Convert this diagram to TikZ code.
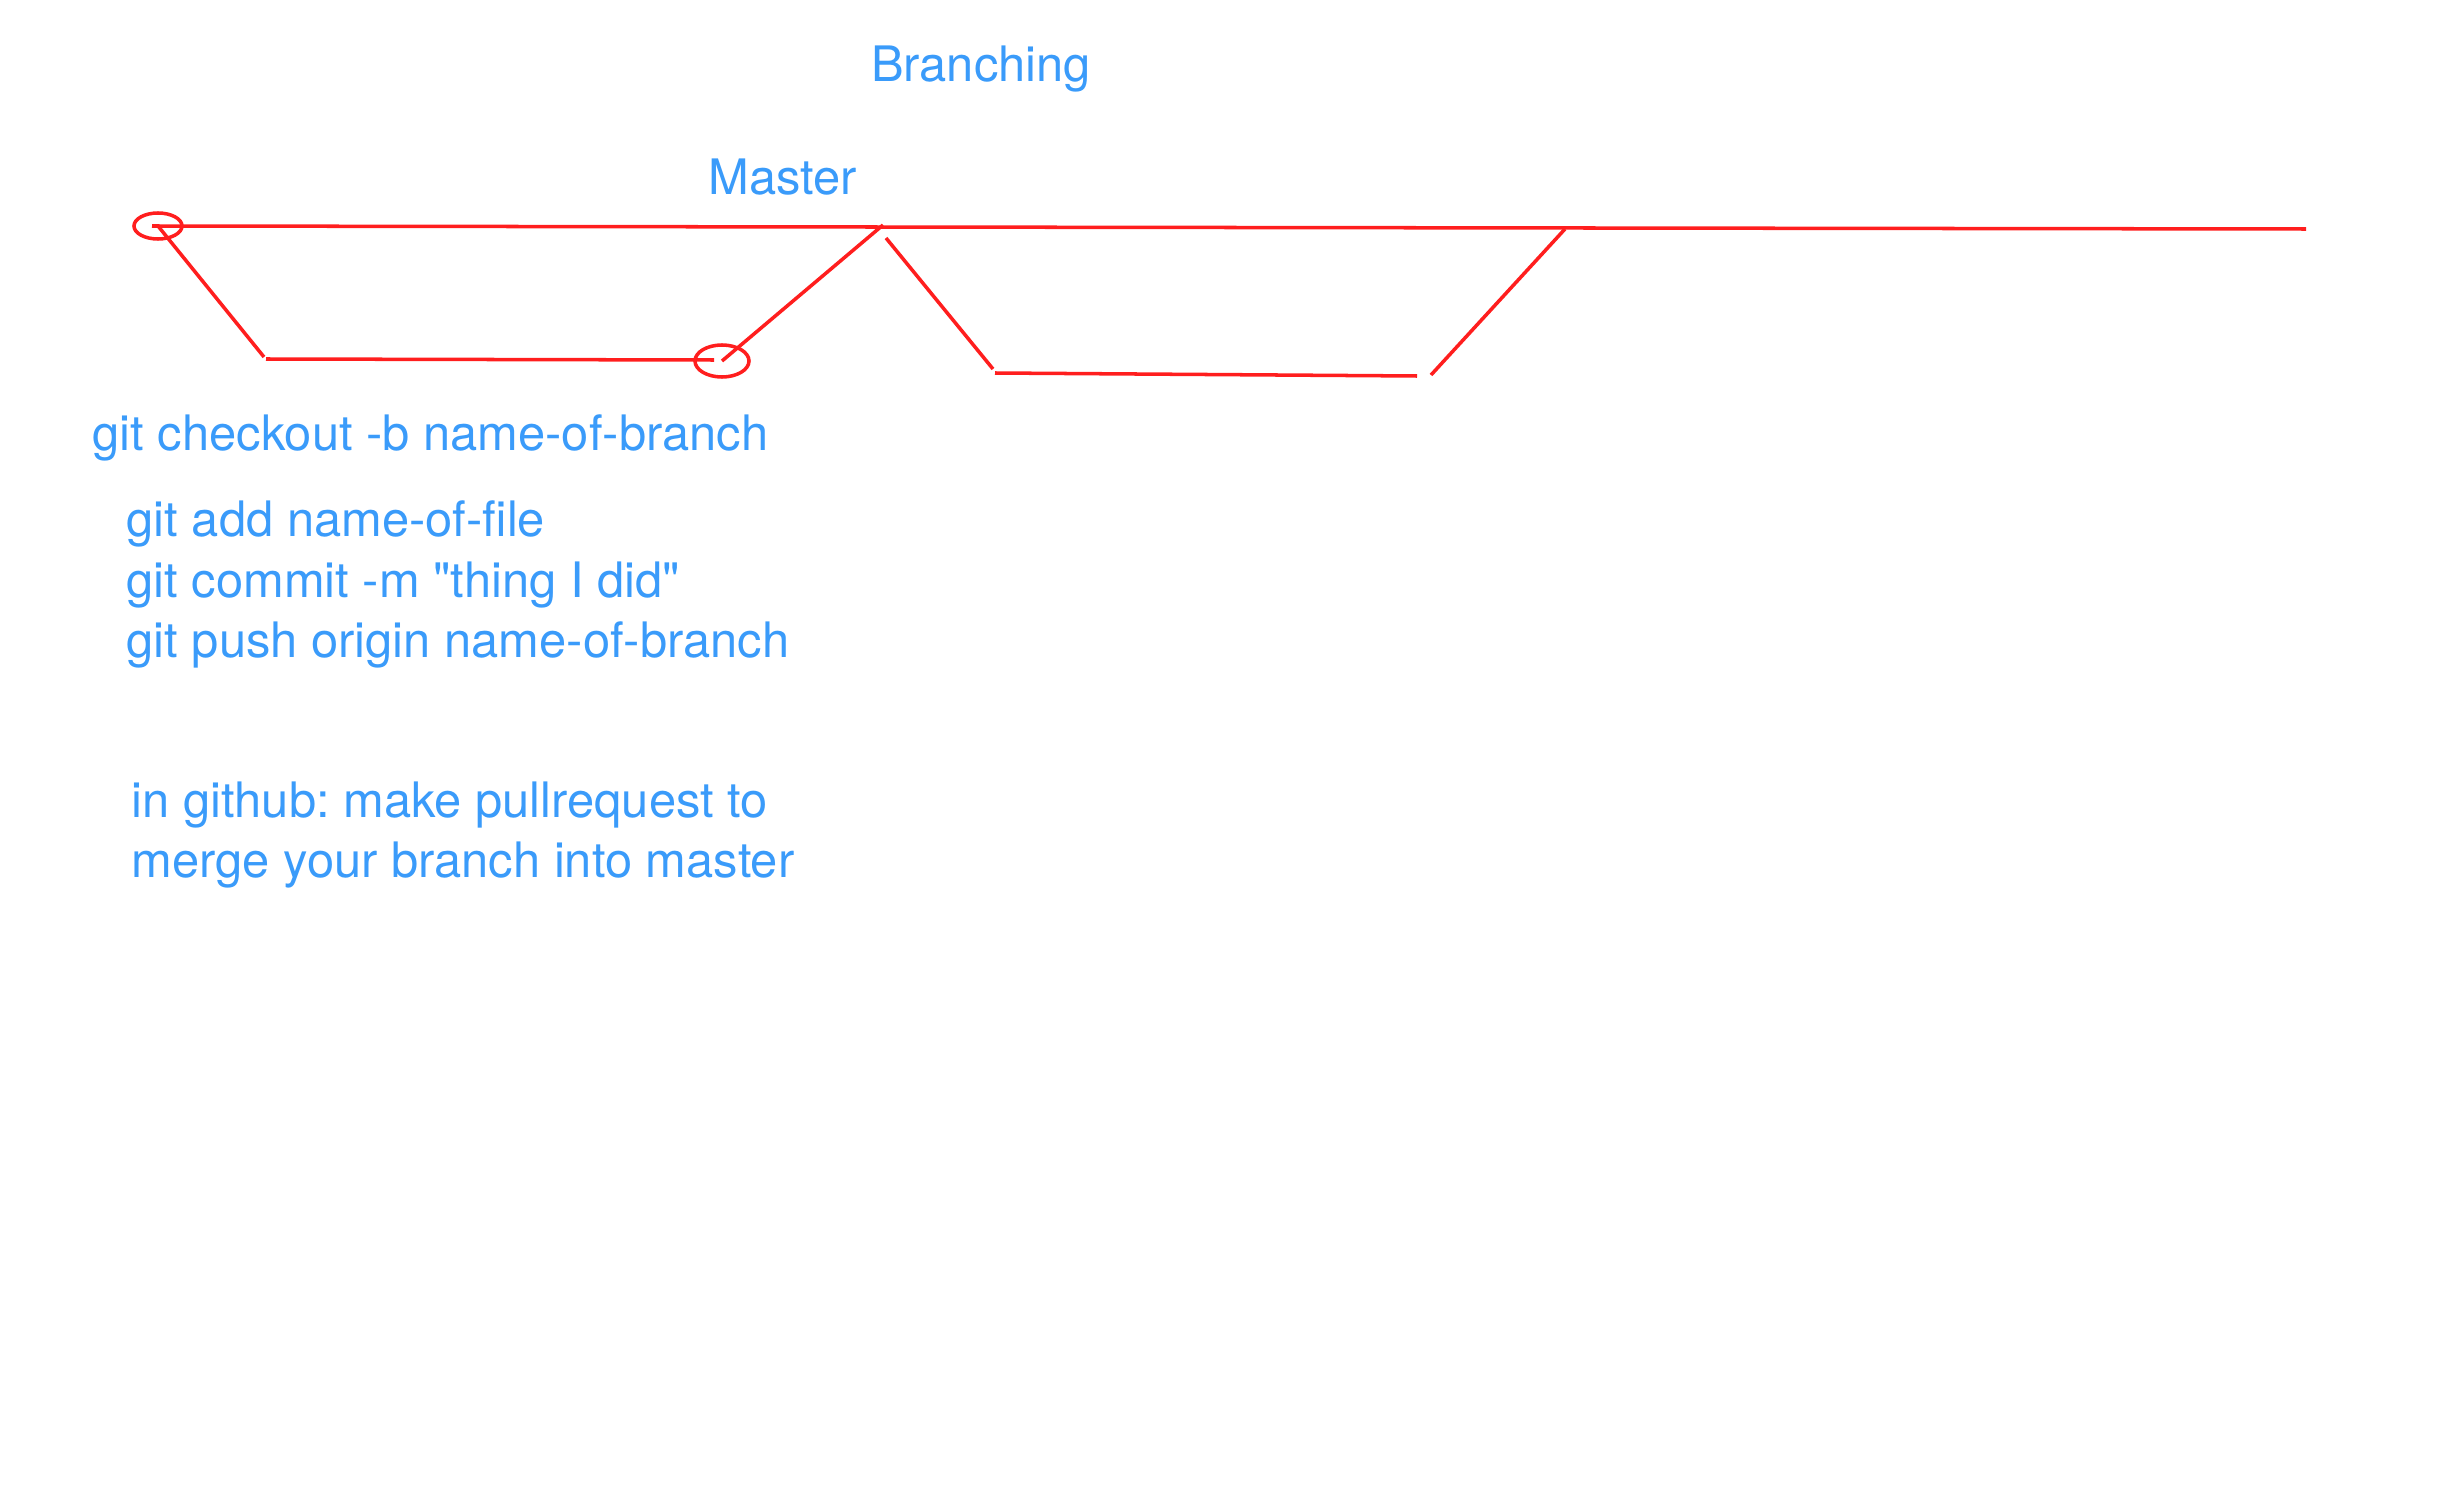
\documentclass[tikz,border=0pt]{standalone}
\usepackage{fontspec}
\setmainfont{TeX Gyre Heros}[Ligatures=TeXOff]
\usetikzlibrary{shapes.geometric}

\definecolor{inkblue}{RGB}{58,155,250}
\definecolor{inkred}{RGB}{255,30,30}

\tikzset{
  stroke/.style={draw=inkred, line width=1pt},
  commit/.style={ellipse, draw=inkred, line width=1pt, inner sep=0pt},
  note/.style={text=inkblue, anchor=base west, inner sep=0pt,
    font=\fontsize{13.9}{17}\selectfont}
}

\frenchspacing
\begin{document}
\begin{tikzpicture}[x=0.01cm, y=-0.01cm]
\useasboundingbox (0,0) rectangle (2456,1488);

% Titulos
\node[note, anchor=base] (title) at (981,82) {Branching};
\node[note] (master) at (708,195) {Master};

% Commits
\node[commit, minimum width=0.48cm, minimum height=0.26cm] (c1) at (158,226) {};
\node[commit, minimum width=0.54cm, minimum height=0.32cm] (c2) at (722,361) {};

% Linea principal
\coordinate (mEnd) at (2306,229);
\draw[stroke] (152,226) coordinate (m0) -- (mEnd);

% Rama 1
\coordinate (b1) at (264,357);
\coordinate (b2) at (266,359);
\coordinate (b3) at (714,360);
\coordinate (m1) at (883,225);
\draw[stroke] (c1.center) -- (b1);
\draw[stroke] (b2) -- (b3);
\draw[stroke] (c2.center) -- (m1);

% Rama 2
\coordinate (m2) at (886,238);
\coordinate (d1) at (993,369);
\coordinate (d2) at (995,373);
\coordinate (d3) at (1417,376);
\coordinate (d4) at (1431,375);
\coordinate (m3) at (1565,229);
\draw[stroke] (m2) -- (d1);
\draw[stroke] (d2) -- (d3);
\draw[stroke] (d4) -- (m3);

% Comandos
\node[note] (checkout) at (92,450) {git checkout -b name-of-branch};
\foreach \txt [count=\i from 0] in {git add name-of-file, git commit -m "thing I did", git push origin name-of-branch}
  \node[note] (cmd\i) at (126,537+60*\i) {\txt};

\foreach \txt [count=\i from 0] in {in github: make pullrequest to, merge your branch into master}
  \node[note] (pr\i) at (131,817+60*\i) {\txt};
\end{tikzpicture}
\end{document}
